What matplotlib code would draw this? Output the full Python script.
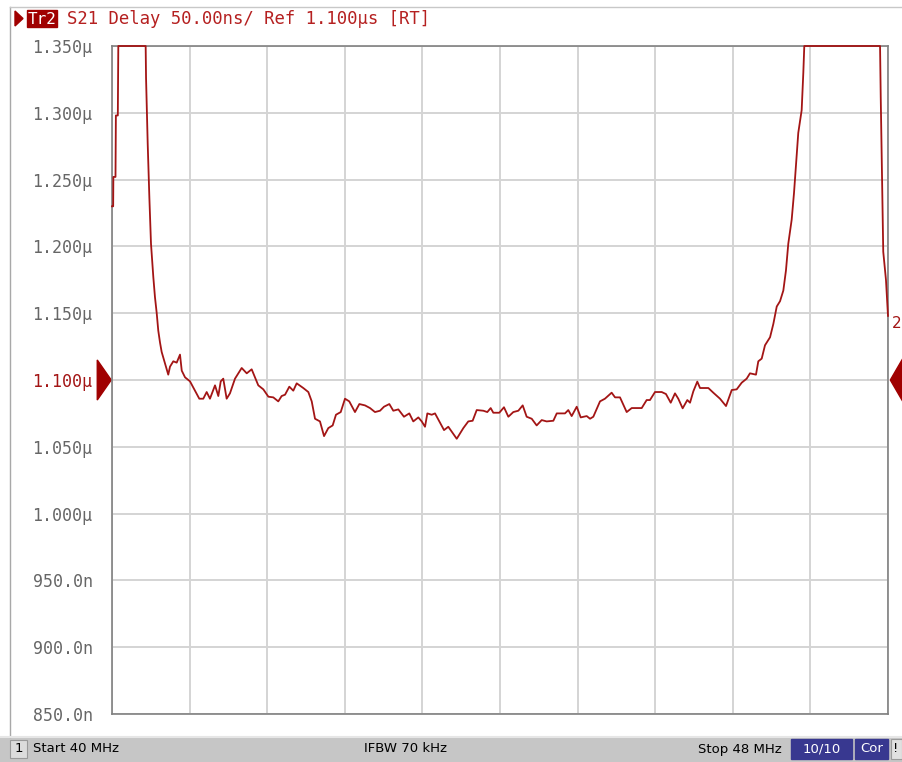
import numpy as np
import matplotlib.pyplot as plt
from matplotlib.patches import Rectangle, Polygon

# Данные трассы: частота (МГц) и групповое время задержки (нс)
# точки за пределами шкалы записаны как 1350 (верх экрана)
freq_mhz = [
    40.000, 40.012, 40.014, 40.036, 40.040, 40.060, 40.065, 40.347,
    40.351, 40.368, 40.385, 40.402, 40.426, 40.443, 40.461, 40.477,
    40.495, 40.512, 40.536, 40.557, 40.580, 40.598, 40.632, 40.667,
    40.701, 40.719, 40.753, 40.804, 40.856, 40.900, 40.941, 40.976,
    41.010, 41.062, 41.096, 41.121, 41.147, 41.182, 41.216, 41.268,
    41.337, 41.389, 41.440, 41.508, 41.560, 41.612, 41.663, 41.714,
    41.749, 41.784, 41.828, 41.869, 41.904, 41.972, 42.024, 42.059,
    42.093, 42.144, 42.186, 42.230, 42.275, 42.309, 42.358, 42.402,
    42.446, 42.505, 42.550, 42.608, 42.660, 42.711, 42.763, 42.804,
    42.859, 42.900, 42.952, 43.010, 43.065, 43.106, 43.158, 43.193,
    43.227, 43.251, 43.296, 43.330, 43.375, 43.423, 43.467, 43.554,
    43.622, 43.673, 43.718, 43.760, 43.828, 43.869, 43.904, 43.931,
    43.993, 44.041, 44.086, 44.137, 44.189, 44.234, 44.275, 44.327,
    44.378, 44.430, 44.481, 44.550, 44.585, 44.670, 44.704, 44.739,
    44.791, 44.832, 44.894, 44.928, 44.962, 45.031, 45.082, 45.151,
    45.186, 45.237, 45.306, 45.358, 45.409, 45.461, 45.512, 45.546,
    45.598, 45.667, 45.711, 45.760, 45.804, 45.838, 45.883, 45.931,
    45.959, 45.993, 46.034, 46.062, 46.148, 46.199, 46.268, 46.330,
    46.389, 46.440, 46.492, 46.543, 46.577, 46.639, 46.663, 46.698,
    46.732, 46.784, 46.818, 46.853, 46.887, 46.921, 46.948, 46.972,
    47.007, 47.031, 47.052, 47.075, 47.110, 47.127, 47.137, 47.918,
    47.925, 47.941, 47.951, 47.979, 47.997, 48.000,
]
delay_ns = [
    1230, 1230, 1252, 1252, 1298, 1298, 1350, 1350,
    1326, 1277, 1237, 1202, 1177, 1162, 1150, 1137,
    1128, 1121, 1115, 1110, 1104, 1110, 1114, 1113,
    1119, 1107, 1102, 1099, 1092, 1086, 1086, 1091,
    1086, 1096, 1088, 1099, 1101, 1086, 1090, 1101,
    1109, 1105, 1108, 1096, 1093, 1087.5, 1087, 1084,
    1088, 1089, 1095, 1092, 1097.5, 1094, 1091, 1084,
    1071, 1069, 1058, 1064, 1066, 1074, 1076, 1086,
    1084, 1076, 1082, 1081, 1079, 1076, 1077, 1080,
    1082, 1077, 1078, 1072.5, 1075, 1069, 1072, 1069,
    1065, 1075, 1074, 1075, 1069, 1062.5, 1065, 1056,
    1064, 1069, 1069.5, 1077.5, 1077, 1076, 1079, 1075.5,
    1075.5, 1079.6, 1072.5, 1076, 1077, 1081, 1072.5, 1071,
    1066, 1070, 1069, 1069.5, 1075, 1075, 1077.5, 1073,
    1080, 1072, 1073, 1071, 1072.5, 1084, 1086, 1090.5,
    1087, 1087, 1076, 1079, 1079, 1079, 1085, 1085,
    1091, 1091, 1089.5, 1083, 1090, 1086, 1078.8, 1085,
    1083, 1091.5, 1098.8, 1094, 1094, 1090.5, 1086, 1080.5,
    1092.5, 1093, 1098, 1101, 1105, 1104, 1114, 1116,
    1126, 1132, 1142, 1155, 1159, 1167, 1182, 1202,
    1220, 1240, 1262, 1285, 1302, 1330, 1350, 1350,
    1312, 1242, 1196, 1175, 1152, 1148,
]

ytick_vals = [850, 900, 950, 1000, 1050, 1100, 1150, 1200, 1250, 1300, 1350]
ytick_labels = ['850.0n', '900.0n', '950.0n', '1.000µ', '1.050µ', '1.100µ',
                '1.150µ', '1.200µ', '1.250µ', '1.300µ', '1.350µ']
ref_value = 1100
start_mhz, stop_mhz = 40, 48

W, H = 902, 762
trace_color = '#a31515'
mono = 'DejaVu Sans Mono'


def px(x, y):
    # пиксели экрана -> доли фигуры
    return x / W, 1 - y / H


fig = plt.figure(figsize=(W / 100, H / 100), dpi=100)
fig.patch.set_facecolor('white')

ax = fig.add_axes([112 / W, (H - 714) / H, 776 / W, 668 / H])
ax.set_xlim(start_mhz, stop_mhz)
ax.set_ylim(850, 1350)
ax.set_xticks(np.linspace(start_mhz, stop_mhz, 11))
ax.set_xticklabels([])
ax.set_yticks(ytick_vals)
ax.set_yticklabels(ytick_labels, fontfamily=mono, fontsize=12, color='#666666')
ax.tick_params(length=0, pad=14)
ax.grid(True, color='#d4d4d4', linewidth=1.4)
ax.set_axisbelow(True)
for s in ax.spines.values():
    s.set_color('#808080')
    s.set_linewidth(1.2)
for lbl, v in zip(ax.get_yticklabels(), ytick_vals):
    if v == ref_value:
        lbl.set_color(trace_color)

ax.plot(freq_mhz, delay_ns, color=trace_color, linewidth=1.3, clip_on=False, zorder=3)

# маркеры опорного уровня
ax.add_patch(Polygon([(-0.019, ref_value + 15), (-0.019, ref_value - 15), (-0.001, ref_value)],
                     closed=True, color='#a00000', clip_on=False,
                     transform=ax.get_yaxis_transform()))
ax.add_patch(Polygon([(1.019, ref_value + 16), (1.019, ref_value - 16), (1.003, ref_value)],
                     closed=True, color='#a00000', clip_on=False,
                     transform=ax.get_yaxis_transform()))
ax.text(1.005, delay_ns[-1], '2', transform=ax.get_yaxis_transform(), color=trace_color,
        fontsize=11, va='top', ha='left', fontfamily='DejaVu Sans')

# рамка окна
fig.add_artist(plt.Line2D([10 / W, 10 / W], [px(0, 737)[1], px(0, 7)[1]], color='#a8a8a8', lw=1))
fig.add_artist(plt.Line2D([10 / W, 1], [px(0, 7)[1]] * 2, color='#c8c8c8', lw=1))

# заголовок трассы
fig.add_artist(Polygon([px(15, 11), px(15, 26), px(23, 18.5)], closed=True, color='#a00000'))
fig.add_artist(Rectangle(px(27, 27), 30 / W, 17 / H, color='#a00000'))
fig.text(*px(42, 19), 'Tr2', ha='center', va='center', color='white',
         fontfamily=mono, fontsize=11.5)
fig.text(*px(67, 19), 'S21 Delay 50.00ns/ Ref 1.100µs [RT]', ha='left', va='center',
         color='#b52020', fontfamily=mono, fontsize=12.4)

# строка состояния
fig.add_artist(Rectangle((0, 0), 1, (H - 737) / H, color='#c6c6c6'))
fig.add_artist(plt.Line2D([0, 1], [px(0, 737)[1]] * 2, color='#e6e6e6', lw=1.5))
fig.add_artist(Rectangle(px(10, 758), 17 / W, 18 / H, facecolor='#dcdcdc',
                         edgecolor='#9a9a9a', lw=0.8))
fig.text(*px(18.5, 749), '1', ha='center', va='center', fontsize=9.5, color='black')
fig.text(*px(33, 749), 'Start 40 MHz', ha='left', va='center', fontsize=9.5, color='black')
fig.text(*px(405, 749), 'IFBW 70 kHz', ha='center', va='center', fontsize=9.5, color='black')
fig.text(*px(782, 749), 'Stop 48 MHz', ha='right', va='center', fontsize=9.5, color='black')
fig.add_artist(Rectangle(px(791, 759), 61 / W, 20 / H, color='#383890'))
fig.text(*px(821.5, 749), '10/10', ha='center', va='center', fontsize=9.5, color='white')
fig.add_artist(Rectangle(px(855, 759), 33 / W, 20 / H, color='#383890'))
fig.text(*px(871.5, 749), 'Cor', ha='center', va='center', fontsize=9.5, color='white')
fig.add_artist(Rectangle(px(891, 759), 11 / W, 20 / H, facecolor='#e0e0e0',
                         edgecolor='#9a9a9a', lw=0.8))
fig.text(*px(896, 749), '!', ha='center', va='center', fontsize=9.5, color='black')

fig.savefig('out.png', dpi=100)
